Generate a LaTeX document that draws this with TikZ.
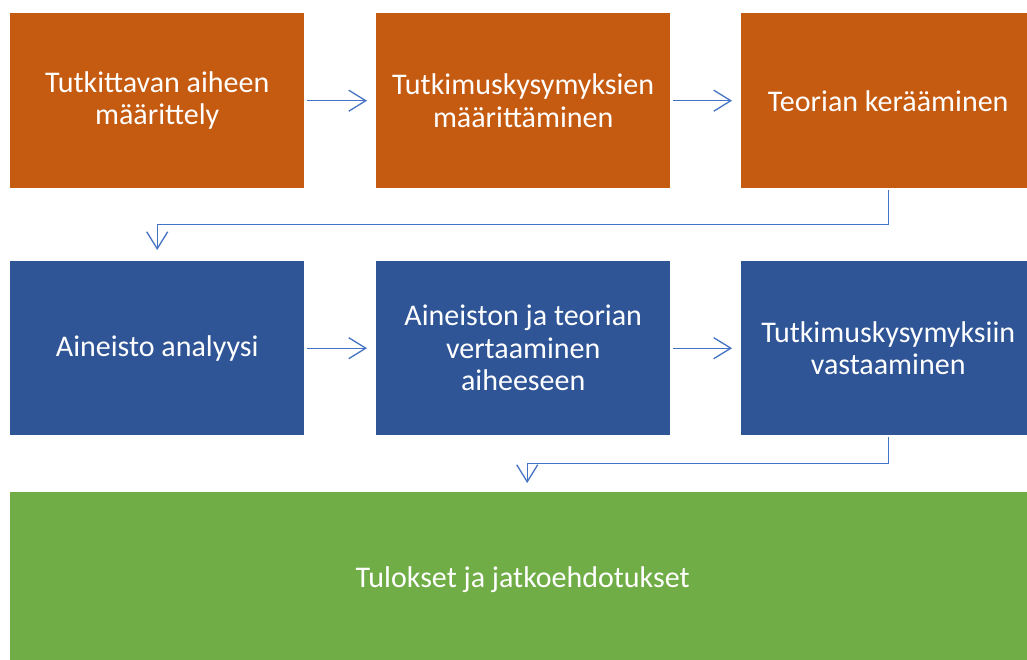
\documentclass[tikz,border=0pt]{standalone}
\usepackage{fontspec}
\setmainfont{Carlito}
\usetikzlibrary{arrows.meta}
\definecolor{boxorange}{HTML}{C55A11}
\definecolor{boxblue}{HTML}{2F5597}
\definecolor{boxgreen}{HTML}{70AD47}
\definecolor{linkblue}{HTML}{4472C4}
\begin{document}
\begin{tikzpicture}[x=1pt,y=-1pt,
  stepbox/.style={anchor=north west,inner sep=0pt,minimum width=294pt,minimum height=175pt,
    text=white,align=center,font=\fontsize{30}{32.5}\selectfont},
  orangebox/.style={stepbox,fill=boxorange},
  bluebox/.style={stepbox,fill=boxblue},
  greenbox/.style={stepbox,fill=boxgreen,minimum width=1025pt},
  link/.style={draw=linkblue,line width=1.3pt,-{Straight Barb[length=17pt,width=21pt,line width=1.3pt]}}]
\useasboundingbox (0,0) rectangle (1027,660);
\clip (0,0) rectangle (1027,660);
\fill[white] (0,0) rectangle (1027,660);
\node[orangebox] (a1) at (10,13) {Tutkittavan aiheen\\määrittely};
\node[orangebox] (a2) at (376,13) {Tutkimuskysymyksien\\määrittäminen};
\node[orangebox] (a3) at (741,13) {Teorian kerääminen};
\node[bluebox,minimum height=174pt] (b1) at (10,261) {Aineisto analyysi};
\node[bluebox,minimum height=174pt] (b2) at (376,261) {Aineiston ja teorian\\vertaaminen\\aiheeseen};
\node[bluebox,minimum height=174pt] (b3) at (741,261) {Tutkimuskysymyksiin\\vastaaminen};
\node[greenbox] (g) at (10,492) {Tulokset ja jatkoehdotukset};
\draw[link,shorten <=3pt,shorten >=9pt] (a1.east) -- (a2.west);
\draw[link,shorten <=3pt,shorten >=9pt] (a2.east) -- (a3.west);
\draw[link,shorten <=3pt,shorten >=9pt] (b1.east) -- (b2.west);
\draw[link,shorten <=3pt,shorten >=9pt] (b2.east) -- (b3.west);
\draw[link,shorten <=2pt,shorten >=11pt] (a3.south) -- ++(0,36) -| (b1.north);
\draw[link,shorten <=2pt,shorten >=9pt] (b3.south) -- ++(0,28) -| ([xshift=4.5pt]g.north);
\end{tikzpicture}
\end{document}
